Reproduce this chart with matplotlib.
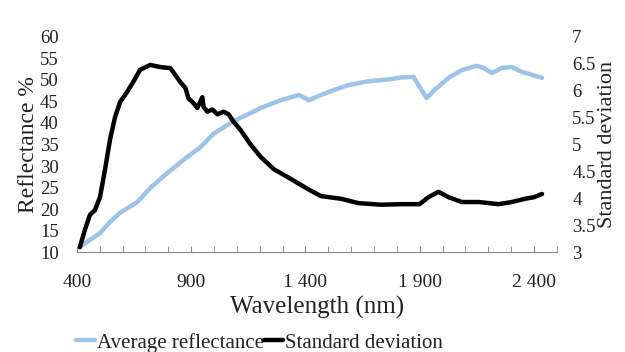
import numpy as np
import matplotlib.pyplot as plt

# values
refl_nm = [413, 457, 501, 545, 589, 664, 721, 796, 866, 941, 998, 1073, 1116,
           1160, 1204, 1292, 1371, 1415, 1468, 1525, 1587, 1675, 1776, 1820,
           1873, 1899, 1930, 1965, 2026, 2084, 2149, 2180, 2215, 2259, 2303,
           2347, 2391, 2435]
refl = [11.2, 12.8, 14.4, 17.0, 19.1, 21.6, 24.9, 28.4, 31.4, 34.4, 37.5,
        40.0, 41.2, 42.3, 43.5, 45.3, 46.5, 45.3, 46.5, 47.7, 48.8, 49.7,
        50.2, 50.6, 50.7, 48.4, 45.8, 47.7, 50.5, 52.3, 53.3, 52.8, 51.6,
        52.8, 53.0, 51.9, 51.2, 50.5]

sd_nm = [413, 435, 457, 479, 501, 523, 545, 567, 589, 620, 646, 677, 721,
         765, 809, 831, 853, 875, 888, 910, 927, 949, 954, 971, 993, 1015,
         1042, 1064, 1086, 1116, 1160, 1204, 1262, 1336, 1411, 1468, 1556,
         1631, 1732, 1820, 1899, 1938, 1982, 2026, 2084, 2158, 2246, 2303,
         2360, 2400, 2435]
sd = [3.09, 3.41, 3.69, 3.78, 4.02, 4.53, 5.09, 5.51, 5.79, 5.98, 6.16, 6.39,
      6.48, 6.44, 6.42, 6.29, 6.16, 6.05, 5.86, 5.77, 5.68, 5.88, 5.70, 5.61,
      5.65, 5.56, 5.61, 5.56, 5.42, 5.27, 5.00, 4.77, 4.54, 4.36, 4.17, 4.04,
      3.99, 3.91, 3.88, 3.89, 3.89, 4.02, 4.12, 4.02, 3.93, 3.93, 3.89, 3.93,
      3.99, 4.02, 4.08]

plt.rcParams['font.family'] = ['Liberation Serif', 'DejaVu Serif']

fig = plt.figure(figsize=(6.25, 3.52), dpi=100)
ax1 = fig.add_axes([0.123, 0.284, 0.768, 0.611])
ax2 = ax1.twinx()

ax1.plot(refl_nm, refl, color='#9dc3e6', lw=3.2, solid_capstyle='round',
         solid_joinstyle='round', label='Average reflectance')
ax2.plot(sd_nm, sd, color='black', lw=3.2, solid_capstyle='round',
         solid_joinstyle='round', label='Standard deviation')

ax1.set_xlim(400, 2500)
ax1.set_ylim(10, 60)
ax2.set_ylim(3, 7)
ax1.set_xticks([400, 900, 1400, 1900, 2400])
ax1.set_xticklabels(['400', '900', '1 400', '1 900', '2 400'])
ax1.set_xticks(np.arange(400, 2501, 100), minor=True)
ax1.set_yticks(np.arange(10, 61, 5))
ax2.set_yticks([3, 3.5, 4, 4.5, 5, 5.5, 6, 6.5, 7])
ax2.set_yticklabels(['3', '3.5', '4', '4.5', '5', '5.5', '6', '6.5', '7'])

for a in (ax1, ax2):
    for s in ['top', 'left', 'right']:
        a.spines[s].set_visible(False)
    a.spines['bottom'].set_color('#888888')
    a.tick_params(axis='y', length=0, labelsize=13.5, colors='#222222')
ax2.spines['bottom'].set_visible(False)
ax1.tick_params(axis='x', which='both', direction='in', length=4,
                color='#888888', labelsize=14, labelcolor='#222222', pad=16)
ax1.tick_params(axis='y', pad=13)
ax2.tick_params(axis='y', pad=11)

ax1.set_xlabel('Wavelength (nm)', fontsize=18, labelpad=3, color='#222222')
ax1.set_ylabel('Reflectance %', fontsize=17, labelpad=1, color='#222222')
ax2.set_ylabel('Standard deviation', fontsize=16, labelpad=2, color='#222222')

h1, l1 = ax1.get_legend_handles_labels()
h2, l2 = ax2.get_legend_handles_labels()
fig.legend(h1 + h2, l1 + l2, loc='lower center', bbox_to_anchor=(0.415, -0.055),
           ncol=2, frameon=False, fontsize=15, handlelength=0.9,
           handletextpad=0.1, columnspacing=0.0, labelcolor='#222222')

fig.savefig('out.png', dpi=100)
